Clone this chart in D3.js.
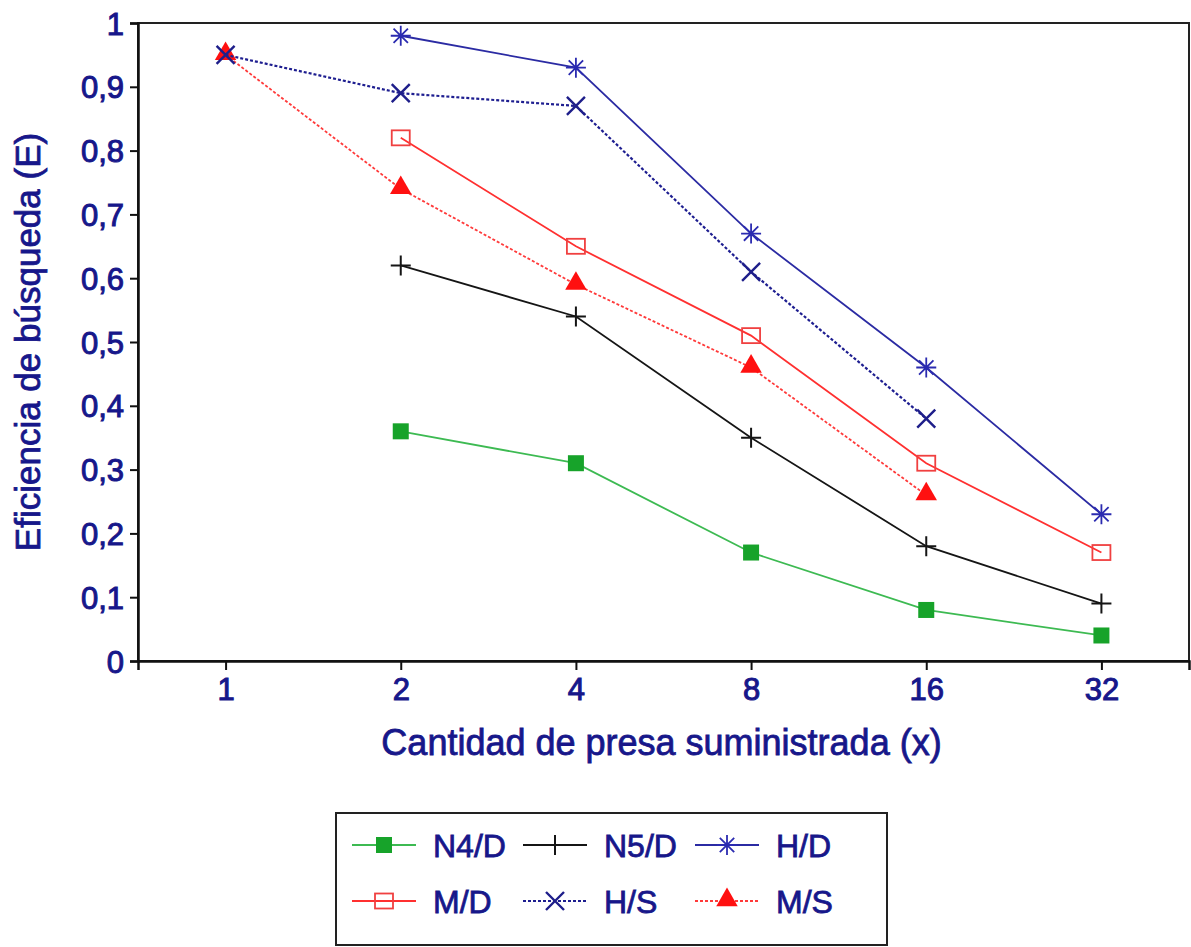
<!DOCTYPE html>
<html>
<head>
<meta charset="utf-8">
<script src="https://cdn.jsdelivr.net/npm/d3@7"></script>
<style>
  html, body { margin: 0; padding: 0; background: #fff; }
  svg { display: block; }
  text { font-family: "Liberation Sans", Arial, Helvetica, sans-serif; fill: #17178a; }
</style>
</head>
<body>
<svg width="1191" height="947"></svg>
<script>
// x categories (cantidad de presa) and the six series
var categories = ["1", "2", "4", "8", "16", "32"];
var yTicks = [0, 0.1, 0.2, 0.3, 0.4, 0.5, 0.6, 0.7, 0.8, 0.9, 1];

var n4d = [null, 0.36, 0.31, 0.17, 0.08, 0.04];
var n5d = [null, 0.62, 0.54, 0.35, 0.18, 0.09];
var hd  = [null, 0.98, 0.93, 0.67, 0.46, 0.23];
var md  = [null, 0.82, 0.65, 0.51, 0.31, 0.17];
var hs  = [0.95, 0.89, 0.87, 0.61, 0.38, null];
var ms  = [0.95, 0.74, 0.59, 0.46, 0.26, null];

var seriesNames = ["N4/D", "N5/D", "H/D", "M/D", "H/S", "M/S"];

var svg = d3.select("svg");
var plotLeft = 138, plotRight = 1189, plotTop = 23, plotBottom = 661;
var ink = "#17178a";

var x = d3.scalePoint().domain(categories).range([plotLeft, plotRight]).padding(0.5);
var y = d3.scaleLinear().domain([0, 1]).range([plotBottom, plotTop]);

// marker shapes
function plusPath(s) { return "M" + (-s) + ",0H" + s + "M0," + (-s) + "V" + s; }
function xPath(s) { return "M" + (-s) + "," + (-s) + "L" + s + "," + s + "M" + (-s) + "," + s + "L" + s + "," + (-s); }
function starPath(s) { var d = s * 0.72; return plusPath(s) + xPath(d); }

var styles = {
    "N4/D": { values: n4d, line: "#3dba52", dash: null, marker: "square", mcolor: "#17a32a" },
    "N5/D": { values: n5d, line: "#151515", dash: null, marker: "plus", mcolor: "#151515" },
    "H/D":  { values: hd,  line: "#2b2ba3", dash: null, marker: "star", mcolor: "#2b2bb0" },
    "M/D":  { values: md,  line: "#ff3030", dash: null, marker: "osquare", mcolor: "#f04040" },
    "H/S":  { values: hs,  line: "#1e1e90", dash: "3,2", marker: "x", mcolor: "#1e1e8a" },
    "M/S":  { values: ms,  line: "#ff3a3a", dash: "3,2", marker: "triangle", mcolor: "#ff1010" }
};

function drawMarker(g, type, color) {
    if (type === "square") {
        g.append("rect").attr("x", -8).attr("y", -8).attr("width", 16).attr("height", 16).attr("fill", color);
    } else if (type === "osquare") {
        g.append("rect").attr("x", -9).attr("y", -7.5).attr("width", 18).attr("height", 15)
            .attr("fill", "none").attr("stroke", color).attr("stroke-width", 1.8);
    } else if (type === "plus") {
        g.append("path").attr("d", plusPath(10)).attr("stroke", color).attr("stroke-width", 2).attr("fill", "none");
    } else if (type === "star") {
        g.append("path").attr("d", starPath(10)).attr("stroke", color).attr("stroke-width", 1.8).attr("fill", "none");
    } else if (type === "x") {
        g.append("path").attr("d", xPath(9)).attr("stroke", color).attr("stroke-width", 2.4).attr("fill", "none");
    } else if (type === "triangle") {
        g.append("path").attr("d", d3.symbol().type(d3.symbolTriangle).size(200)()).attr("fill", color)
            .attr("transform", "translate(0,-1)");
    }
}

// frame
svg.append("rect").attr("x", plotLeft).attr("y", plotTop)
    .attr("width", plotRight - plotLeft).attr("height", plotBottom - plotTop)
    .attr("fill", "none").attr("stroke", "#222").attr("stroke-width", 2);

// y axis
var yAxis = svg.append("g").attr("transform", "translate(" + plotLeft + ",0)")
    .call(d3.axisLeft(y).tickValues(yTicks).tickSize(8).tickPadding(6)
        .tickFormat(function (d) { return d === 0 || d === 1 ? String(d) : d3.format(".1f")(d).replace(".", ","); }));
yAxis.select(".domain").attr("stroke", "#111").attr("stroke-width", 2.5);
yAxis.selectAll(".tick line").attr("stroke", "#111").attr("stroke-width", 2);
yAxis.selectAll(".tick text").attr("font-size", 31).attr("fill", ink).attr("dy", "0.36em")
    .attr("font-family", "Liberation Sans, Arial, sans-serif").attr("stroke", ink).attr("stroke-width", 1);

// x axis
var xAxis = svg.append("g").attr("transform", "translate(0," + plotBottom + ")")
    .call(d3.axisBottom(x).tickSize(9).tickPadding(8));
xAxis.select(".domain").attr("stroke", "#111").attr("stroke-width", 2.5);
xAxis.selectAll(".tick line").attr("stroke", "#111").attr("stroke-width", 2);
xAxis.selectAll(".tick text").attr("font-size", 31).attr("fill", ink)
    .attr("font-family", "Liberation Sans, Arial, sans-serif").attr("stroke", ink).attr("stroke-width", 1);

// axis titles
svg.append("text").attr("x", (plotLeft + plotRight) / 2 - 2).attr("y", 755).attr("text-anchor", "middle")
    .attr("font-size", 36).attr("stroke", ink).attr("stroke-width", 0.8)
    .text("Cantidad de presa suministrada (x)");
svg.append("text").attr("transform", "translate(40," + ((plotTop + plotBottom) / 2) + ") rotate(-90)")
    .attr("text-anchor", "middle").attr("font-size", 35).attr("stroke", ink).attr("stroke-width", 0.8)
    .text("Eficiencia de búsqueda (E)");

// lines and markers
var line = d3.line()
    .defined(function (d) { return d != null; })
    .x(function (d, i) { return x(categories[i]); })
    .y(function (d) { return y(d); });

var drawOrder = ["N4/D", "N5/D", "M/S", "M/D", "H/S", "H/D"];
drawOrder.forEach(function (name) {
    var s = styles[name];
    svg.append("path").datum(s.values).attr("d", line).attr("fill", "none")
        .attr("stroke", s.line).attr("stroke-width", name === "H/S" ? 2.2 : 1.8)
        .attr("stroke-dasharray", s.dash);
    s.values.forEach(function (v, i) {
        if (v == null) return;
        var g = svg.append("g").attr("transform", "translate(" + x(categories[i]) + "," + y(v) + ")");
        drawMarker(g, s.marker, s.mcolor);
    });
});

// legend
var legend = svg.append("g");
legend.append("rect").attr("x", 336).attr("y", 813).attr("width", 551).attr("height", 132)
    .attr("fill", "#fff").attr("stroke", "#222").attr("stroke-width", 2);
var colX = [352, 523, 695];
var rowY = [845, 901];
seriesNames.forEach(function (name, i) {
    var s = styles[name];
    var cx = colX[i % 3], cy = rowY[Math.floor(i / 3)];
    legend.append("line").attr("x1", cx).attr("x2", cx + 64).attr("y1", cy).attr("y2", cy)
        .attr("stroke", s.line).attr("stroke-width", 1.8).attr("stroke-dasharray", s.dash);
    var g = legend.append("g").attr("transform", "translate(" + (cx + 32) + "," + cy + ")");
    drawMarker(g, s.marker, s.mcolor);
    legend.append("text").attr("x", cx + 81).attr("y", cy + 12).attr("font-size", 32)
        .attr("stroke", ink).attr("stroke-width", 0.8).text(name);
});
</script>
</body>
</html>
